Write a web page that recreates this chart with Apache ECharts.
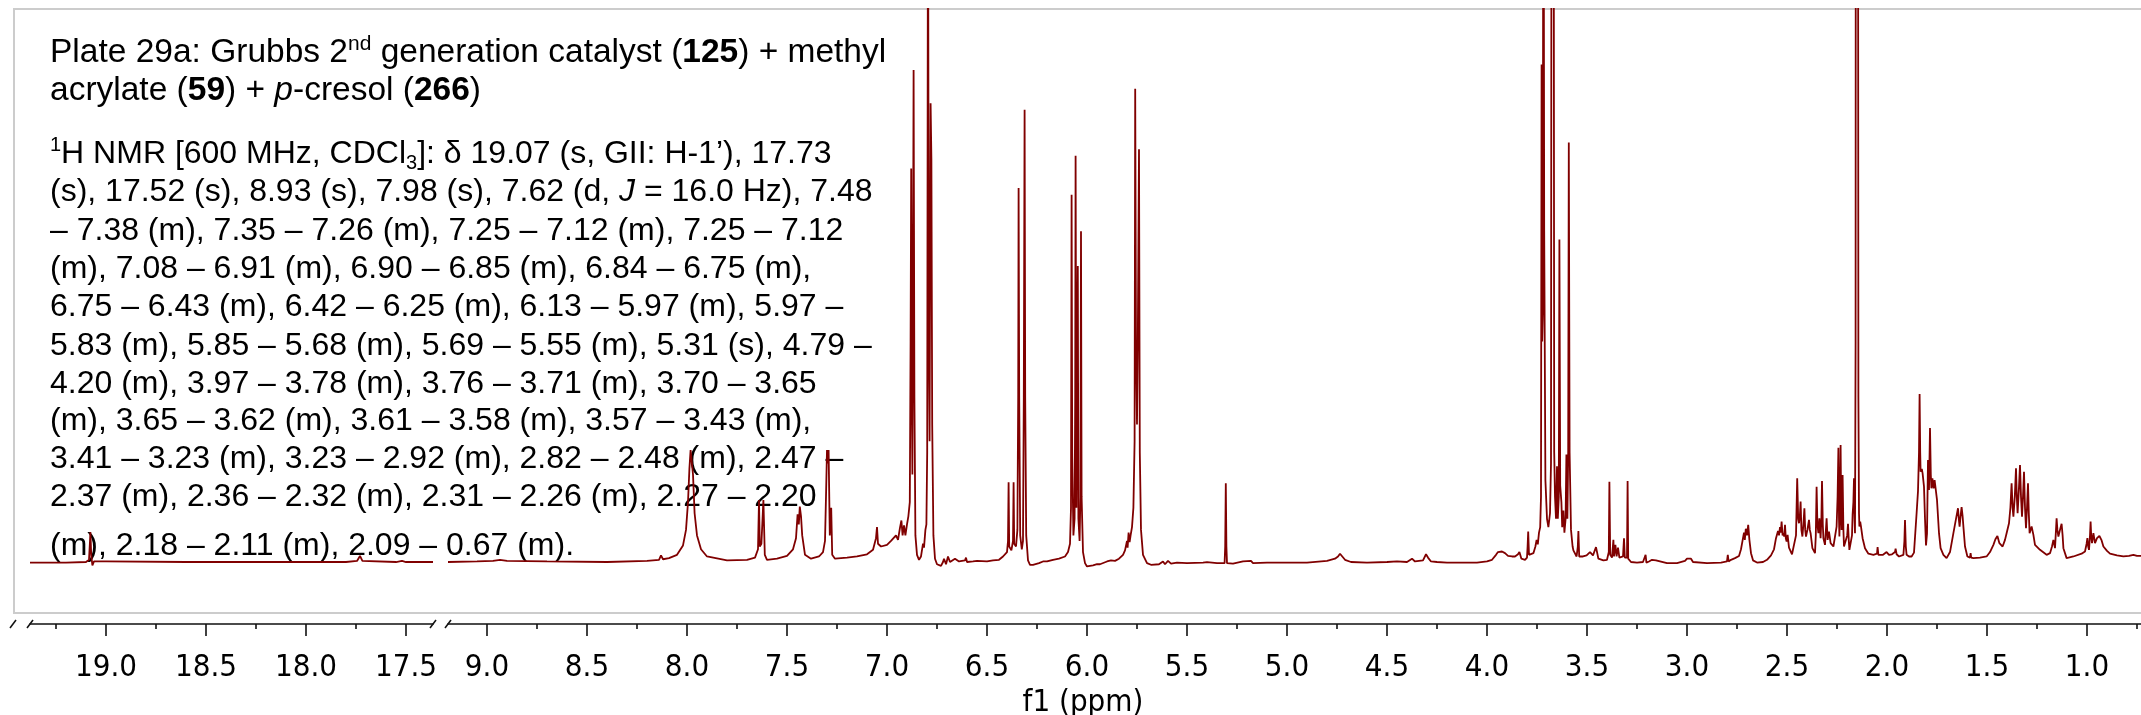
<!DOCTYPE html>
<html><head><meta charset="utf-8">
<script src="https://cdn.jsdelivr.net/npm/echarts@6/dist/echarts.min.js"></script>
<style>html,body{margin:0;padding:0;background:#fff}#c{width:2141px;height:715px}</style>
</head><body><div id="c"></div>
<script>
// ---- data: [ppm, intensity] (0 = baseline, 100 = top of frame) ----
const seg1Points = [
[19.38,0.1],[19.20,0.1],[19.10,0.2],[19.085,0.6],[19.080,4.0],[19.078,5.6],[19.074,1.5],[19.068,-0.4],[19.06,0.3],
[19.00,0.3],[18.60,0.2],[18.20,0.2],[17.80,0.2],[17.745,0.4],[17.730,1.3],[17.718,0.4],[17.55,0.2],[17.52,0.4],[17.50,0.2],[17.365,0.2]
];
const seg2Points = [
[9.195,0.2],[9.05,0.3],[8.97,0.4],[8.935,0.6],[8.90,0.4],[8.70,0.3],[8.40,0.2],[8.20,0.4],[8.14,0.6],[8.13,1.4],[8.12,0.7],
[8.09,0.9],[8.05,1.5],[8.02,3.2],[8.005,6],[7.995,11],[7.988,17],[7.982,20.4],[7.976,20.4],[7.970,16],[7.962,9],[7.95,5],
[7.93,2.5],[7.90,1.2],[7.80,0.5],[7.70,0.6],[7.66,1.0],[7.645,2.5],[7.640,11.4],[7.636,3],[7.628,3.5],[7.618,11.4],[7.615,11.4],
[7.611,1.5],[7.60,0.6],[7.55,0.8],[7.50,1.3],[7.47,2.5],[7.455,4.5],[7.447,8.8],[7.441,7],[7.436,10.2],[7.430,8.5],[7.424,5],
[7.41,1.5],[7.38,0.8],[7.34,1.2],[7.32,2.0],[7.31,4.0],[7.305,12],[7.300,20.4],[7.296,18],[7.292,20.4],[7.286,5],[7.279,10],
[7.274,1.5],[7.26,0.8],[7.20,1.0],[7.15,1.2],[7.10,1.6],[7.07,2.4],[7.055,4.5],[7.050,6.5],[7.045,3.5],[7.03,3.0],[7.00,3.3],
[6.98,4.0],[6.97,3.8],[6.955,5],[6.945,4.2],[6.935,6.4],[6.928,7.7],[6.922,5.0],[6.915,6.8],[6.908,5.0],[6.900,7.0],[6.893,8.5],
[6.886,11],[6.882,40],[6.879,71.2],[6.876,30],[6.873,16],[6.870,50],[6.867,89],[6.863,30],[6.858,5],[6.85,1.5],[6.84,0.6],
[6.83,1.2],[6.82,3.5],[6.815,2.8],[6.808,6],[6.803,7],[6.799,20],[6.795,130],[6.791,40],[6.787,22],[6.784,60],[6.782,83],
[6.778,72.9],[6.774,25],[6.768,5],[6.76,0.8],[6.75,-0.2],[6.73,-0.5],[6.72,0.2],[6.715,0.8],[6.705,-0.2],[6.695,1.2],[6.685,0.2],
[6.66,0.8],[6.64,0.3],[6.61,0.5],[6.605,1.0],[6.60,0.2],[6.57,0.3],[6.55,0.4],[6.50,0.3],[6.47,0.5],[6.44,0.6],[6.42,1.2],
[6.40,2.0],[6.395,4],[6.392,14.6],[6.389,3],[6.378,2.3],[6.370,4],[6.367,14.6],[6.364,3.5],[6.355,3],[6.348,6],[6.344,30],
[6.342,67.7],[6.339,30],[6.334,5],[6.326,2.5],[6.320,4],[6.316,30],[6.312,81.8],[6.309,30],[6.304,5],[6.295,0.5],[6.285,-0.3],
[6.27,-0.3],[6.24,0],[6.22,0.3],[6.215,0.6],[6.20,0.3],[6.17,0.6],[6.14,0.8],[6.11,1.2],[6.095,2.0],[6.085,3.5],[6.080,10],
[6.077,66.5],[6.074,20],[6.068,5],[6.062,8],[6.059,30],[6.057,73.5],[6.053,10],[6.049,10],[6.046,53.6],[6.043,8],[6.037,4],
[6.033,12],[6.030,59.9],[6.027,12],[6.020,2],[6.01,0],[6.00,-0.6],[5.97,-0.4],[5.95,-0.2],[5.935,-0.2],[5.90,0.3],[5.88,0.5],
[5.86,0.4],[5.84,0.8],[5.82,1.5],[5.81,2.3],[5.80,4.0],[5.797,2.8],[5.792,5.5],[5.787,3.8],[5.782,5.0],[5.775,6.5],[5.768,10],
[5.762,22],[5.759,85.6],[5.755,40],[5.750,25],[5.746,40],[5.740,74.7],[5.736,20],[5.730,6],[5.72,1.5],[5.70,0],[5.68,-0.3],
[5.64,-0.2],[5.62,0.3],[5.61,-0.2],[5.595,0.4],[5.58,-0.1],[5.55,0.1],[5.50,0],[5.42,0.1],[5.40,0.2],[5.35,0],[5.312,0],
[5.309,3],[5.306,14.4],[5.303,3],[5.300,0],[5.27,-0.1],[5.22,0.3],[5.21,0],[5.18,0.4],[5.17,0],[5.10,0.1],[5.00,0.1],[4.90,0.1],
[4.80,0.4],[4.76,0.8],[4.745,1.2],[4.735,1.7],[4.725,1.4],[4.71,0.6],[4.68,0.2],[4.60,0.1],[4.50,0.2],[4.45,0.3],[4.40,0.2],
[4.375,0.8],[4.36,0.3],[4.32,0.5],[4.305,1.6],[4.295,1.0],[4.28,0.3],[4.25,0.2],[4.20,0.1],[4.10,0.1],[4.05,0.1],[4.00,0.3],
[3.975,0.6],[3.955,1.5],[3.945,2.0],[3.935,1.9],[3.925,2.1],[3.91,1.8],[3.895,1.3],[3.875,1.2],[3.86,1.2],[3.845,1.6],[3.838,2.0],
[3.828,0.8],[3.81,0.6],[3.80,1.0],[3.797,3],[3.794,5.7],[3.790,1.5],[3.78,1.8],[3.768,1.8],[3.758,3.0],[3.752,4.2],[3.746,3.4],
[3.740,5.5],[3.734,6.5],[3.730,12],[3.727,90],[3.724,40],[3.721,45],[3.718,160],[3.714,60],[3.708,15],[3.700,8],[3.693,6.5],
[3.685,9],[3.680,18],[3.676,200],[3.672,250],[3.668,200],[3.664,20],[3.660,12],[3.655,8],[3.650,17.5],[3.646,8],[3.641,12],
[3.638,58.4],[3.634,14],[3.628,11],[3.624,6.5],[3.618,9.5],[3.613,5.5],[3.607,8],[3.603,19.6],[3.598,8],[3.594,20],[3.591,75.9],
[3.587,20],[3.580,6],[3.572,3.0],[3.568,2.3],[3.552,1.2],[3.546,3],[3.543,5.8],[3.539,1.2],[3.52,1.2],[3.502,1.4],[3.485,2.0],
[3.47,1.4],[3.455,2.9],[3.450,2.6],[3.443,0.8],[3.418,0.5],[3.40,0.6],[3.391,2],[3.388,14.7],[3.384,1.5],[3.375,1.0],[3.368,4.2],
[3.365,1.2],[3.358,3.3],[3.352,1.2],[3.345,2.8],[3.338,1.0],[3.330,0.8],[3.320,1.2],[3.315,4.5],[3.311,1.0],[3.30,1.0],[3.297,14.8],
[3.294,0.8],[3.28,0.2],[3.25,0.1],[3.22,0.2],[3.207,1.5],[3.203,0.1],[3.19,0.3],[3.175,0.6],[3.165,0.9],[3.155,0.5],[3.10,0],
[3.05,0],[3.01,0.4],[3.00,0.8],[2.99,0.5],[2.98,0.8],[2.97,0.2],[2.90,0],[2.83,0.1],[2.80,0.3],[2.796,1.5],[2.792,0.3],[2.78,0.6],
[2.76,0.9],[2.74,1.3],[2.73,2.5],[2.72,4.5],[2.715,5.5],[2.711,4.2],[2.706,6.2],[2.700,5.0],[2.694,6.9],[2.688,4.2],[2.680,1.8],
[2.67,0.5],[2.65,0.1],[2.62,0.2],[2.60,0.6],[2.58,1.4],[2.565,2.5],[2.555,4.5],[2.545,5.8],[2.540,5.0],[2.535,6.5],[2.531,5.5],
[2.527,7.5],[2.522,5.0],[2.518,5.4],[2.514,4.8],[2.510,6.9],[2.506,4.5],[2.502,3.9],[2.497,5.1],[2.490,2.8],[2.485,2.4],[2.475,1.6],
[2.468,1.5],[2.455,5],[2.449,15.3],[2.444,8],[2.440,7.2],[2.435,9],[2.432,11.1],[2.428,6],[2.423,4.8],[2.418,7],[2.413,9.9],
[2.409,6],[2.405,4.8],[2.398,6],[2.390,7.8],[2.386,6],[2.382,5.4],[2.373,2.7],[2.360,1.8],[2.356,5],[2.352,13.8],[2.348,7],
[2.343,5.4],[2.338,8.1],[2.332,4.5],[2.328,8],[2.325,14.8],[2.321,7],[2.318,4.5],[2.310,3.3],[2.302,8.1],[2.297,4.2],[2.290,5.7],
[2.282,3.6],[2.268,3.0],[2.260,2.7],[2.252,6.6],[2.247,12],[2.243,20.8],[2.240,8],[2.238,4.8],[2.235,10],[2.232,21.3],[2.229,9],
[2.227,6.0],[2.224,11],[2.222,15.9],[2.218,6],[2.215,3.0],[2.207,2.7],[2.199,5],[2.195,7.1],[2.191,4],[2.188,2.4],[2.180,2.1],
[2.175,5],[2.172,8.7],[2.168,11],[2.165,15.3],[2.162,8],[2.160,5.4],[2.157,40],[2.155,250],[2.151,300],[2.147,250],[2.143,30],
[2.140,9],[2.138,6.6],[2.134,7.5],[2.130,6.6],[2.122,4.5],[2.110,2.7],[2.093,1.7],[2.068,1.5],[2.050,1.7],[2.047,2.9],[2.043,1.5],
[2.02,1.5],[2.002,2.0],[1.99,1.5],[1.975,1.6],[1.960,2.0],[1.957,2.6],[1.952,1.6],[1.940,1.2],[1.932,1.0],[1.918,1.5],[1.913,4],
[1.910,7.8],[1.906,3],[1.902,1.5],[1.890,1.2],[1.877,1.2],[1.865,1.9],[1.852,9],[1.845,13],[1.840,20],[1.837,30.5],[1.834,20],
[1.832,16.5],[1.826,17],[1.822,16.2],[1.815,13.8],[1.810,8],[1.805,3.2],[1.800,5.3],[1.795,18.6],[1.790,13.2],[1.785,24.4],
[1.781,16],[1.778,13.5],[1.773,15.3],[1.767,13.5],[1.762,15],[1.758,15],[1.750,11.4],[1.740,5.4],[1.732,2.7],[1.718,1.5],
[1.702,0.9],[1.685,2.0],[1.668,5.4],[1.655,8],[1.645,9.9],[1.641,8],[1.637,6.6],[1.632,8.5],[1.627,10.1],[1.622,8.5],[1.618,6.6],
[1.610,3.0],[1.598,1.2],[1.585,1.0],[1.582,1.8],[1.579,1.0],[1.568,0.9],[1.535,1.0],[1.502,1.2],[1.485,2.0],[1.468,3.3],
[1.458,4.3],[1.448,4.9],[1.438,3.6],[1.422,3.0],[1.410,4.2],[1.402,5.4],[1.390,7.2],[1.383,10],[1.377,14.4],[1.372,10],[1.368,8.4],
[1.361,12],[1.355,17.1],[1.351,12],[1.347,9],[1.341,13],[1.335,17.7],[1.330,12],[1.325,8.4],[1.320,12],[1.315,16.5],[1.310,10],
[1.305,6.3],[1.300,10],[1.295,14.4],[1.291,9],[1.287,5.4],[1.277,6.6],[1.268,5.1],[1.260,3.3],[1.235,2.4],[1.202,1.5],[1.185,1.8],
[1.175,3],[1.168,4.2],[1.160,2.7],[1.155,6],[1.152,8.1],[1.148,6],[1.143,4.8],[1.135,6],[1.127,7.1],[1.122,5],[1.118,2.7],
[1.102,0.9],[1.068,1.2],[1.027,1.7],[1.010,2.1],[1.002,3.5],[0.998,4.5],[0.994,3],[0.990,2.4],[0.985,5],[0.982,7.5],[0.979,5],
[0.975,3.6],[0.968,5.4],[0.960,3.6],[0.950,4.5],[0.938,4.9],[0.928,4.2],[0.918,3.0],[0.900,2.2],[0.885,1.7],[0.850,1.4],
[0.818,1.2],[0.790,1.3],[0.768,1.5],[0.750,1.3],[0.730,1.3]
];
// ---- axis ticks ----
const seg1Major = [19.0, 18.5, 18.0, 17.5];
const seg1Minor = [19.25, 18.75, 18.25, 17.75];
const seg2Major = [9.0, 8.5, 8.0, 7.5, 7.0, 6.5, 6.0, 5.5, 5.0, 4.5, 4.0, 3.5, 3.0, 2.5, 2.0, 1.5, 1.0];
const seg2Minor = [8.75, 8.25, 7.75, 7.25, 6.75, 6.25, 5.75, 5.25, 4.75, 4.25, 3.75, 3.25, 2.75, 2.25, 1.75, 1.25, 0.75];
const axisTitle = 'f1 (ppm)';
// ---- annotation text (rich markup) ----
const titleLines = [
'Plate 29a: Grubbs 2{sup|nd} generation catalyst ({b|125}) + methyl',
'acrylate ({b|59}) + {i|p}-cresol ({b|266})'
];
const noteLines = [
'{sup|1}H NMR [600 MHz, CDCl{sub|3}]: δ 19.07 (s, GII: H-1’), 17.73',
'(s), 17.52 (s), 8.93 (s), 7.98 (s), 7.62 (d, {i|J} = 16.0 Hz), 7.48',
'– 7.38 (m), 7.35 – 7.26 (m), 7.25 – 7.12 (m), 7.25 – 7.12',
'(m), 7.08 – 6.91 (m), 6.90 – 6.85 (m), 6.84 – 6.75 (m),',
'6.75 – 6.43 (m), 6.42 – 6.25 (m), 6.13 – 5.97 (m), 5.97 –',
'5.83 (m), 5.85 – 5.68 (m), 5.69 – 5.55 (m), 5.31 (s), 4.79 –',
'4.20 (m), 3.97 – 3.78 (m), 3.76 – 3.71 (m), 3.70 – 3.65',
'(m), 3.65 – 3.62 (m), 3.61 – 3.58 (m), 3.57 – 3.43 (m),',
'3.41 – 3.23 (m), 3.23 – 2.92 (m), 2.82 – 2.48 (m), 2.47 –',
'2.37 (m), 2.36 – 2.32 (m), 2.31 – 2.26 (m), 2.27 – 2.20',
'(m), 2.18 – 2.11 (m), 2.09 – 0.67 (m).'
];
const titleBaselines = [65, 103];
const noteBaselines = [165, 203, 242, 280, 318, 357, 395, 432, 470, 508, 557];

// ---- layout / style ----
const TXT_FONT = "'Liberation Sans', Arial, sans-serif";
const AX_FONT = "'DejaVu Sans Condensed', 'Liberation Sans', sans-serif";
const LINE_COLOR = '#800000';
const GRID_TOP = 9, GRID_H = 604, AXIS_OFF = 11;

const chart = echarts.init(document.getElementById('c'), null, {renderer: 'canvas'});

function mkAxis(gridIndex, min, max, values, major) {
  return {
    type: 'value', gridIndex, min, max, inverse: true, position: 'bottom', offset: AXIS_OFF,
    axisLine: {show: major, onZero: false, lineStyle: {color: '#111', width: 1.6}},
    axisTick: {show: true, inside: false, length: major ? 12 : 5, customValues: values,
               lineStyle: {color: '#111', width: 1.6}},
    axisLabel: major ? {show: true, customValues: values, formatter: v => Number(v).toFixed(1),
               margin: 28, fontFamily: AX_FONT, fontSize: 31, lineHeight: 31, color: '#000'} : {show: false},
    splitLine: {show: false}
  };
}

function richFor(size) {
  return {
    b:   {fontSize: size, fontFamily: TXT_FONT, fontWeight: 'bold', fill: '#000'},
    i:   {fontSize: size, fontFamily: TXT_FONT, fontStyle: 'italic', fill: '#000'},
    sup: {fontSize: Math.round(size * 0.62), fontFamily: TXT_FONT, fill: '#000', verticalAlign: 'top', lineHeight: 17},
    sub: {fontSize: Math.round(size * 0.62), fontFamily: TXT_FONT, fill: '#000', verticalAlign: 'bottom', lineHeight: 20}
  };
}

const graphics = [
  {type: 'rect', z: 0, silent: true, shape: {x: 14, y: GRID_TOP, width: 2160, height: GRID_H},
   style: {fill: 'none', stroke: '#cccccc', lineWidth: 2}}
];
function addLines(lines, baselines, size) {
  lines.forEach((t, k) => {
    graphics.push({type: 'text', z: 1, silent: true, x: 50, y: baselines[k] - Math.round(size * 0.345),
      style: {text: t, fontSize: size, fontFamily: TXT_FONT, fill: '#000', lineHeight: 38,
              verticalAlign: 'middle', align: 'left', rich: richFor(size)}});
  });
}
addLines(titleLines, titleBaselines, 33.5);
addLines(noteLines, noteBaselines, 32);
// axis break marks
[[10, 16], [27, 33], [430, 436], [445, 451]].forEach(p => {
  graphics.push({type: 'line', z: 5, silent: true,
    shape: {x1: p[0], y1: 628, x2: p[1], y2: 620}, style: {stroke: '#111', lineWidth: 1.6}});
});
graphics.push({type: 'text', z: 5, silent: true, x: 1083, y: 703,
  style: {text: axisTitle, fontFamily: AX_FONT, fontSize: 31, fill: '#000', align: 'center', verticalAlign: 'middle'}});

chart.setOption({
  animation: false,
  backgroundColor: '#fff',
  grid: [
    {left: 30, width: 403, top: GRID_TOP, height: GRID_H, containLabel: false},
    {left: 448, right: 0, top: GRID_TOP, height: GRID_H, containLabel: false}
  ],
  xAxis: [
    mkAxis(0, 17.365, 19.38, seg1Major, true),
    mkAxis(0, 17.365, 19.38, seg1Minor, false),
    mkAxis(1, 0.73, 9.195, seg2Major, true),
    mkAxis(1, 0.73, 9.195, seg2Minor, false)
  ],
  yAxis: [
    {type: 'value', gridIndex: 0, min: -9, max: 100, show: false},
    {type: 'value', gridIndex: 1, min: -9, max: 100, show: false}
  ],
  graphic: graphics,
  series: [
    {type: 'line', xAxisIndex: 0, yAxisIndex: 0, data: seg1Points, showSymbol: false, clip: true, z: 3,
     lineStyle: {color: LINE_COLOR, width: 1.8}},
    {type: 'line', xAxisIndex: 2, yAxisIndex: 1, data: seg2Points, showSymbol: false, clip: true, z: 3,
     lineStyle: {color: LINE_COLOR, width: 1.8}}
  ]
});
</script></body></html>
